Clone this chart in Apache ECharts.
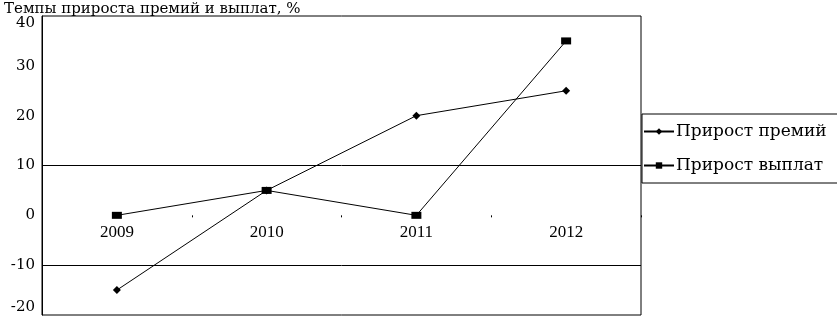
<!DOCTYPE html>
<html>
<head>
<meta charset="utf-8">
<script src="https://cdn.jsdelivr.net/npm/echarts@6/dist/echarts.min.js"></script>
<style>html,body{margin:0;padding:0;background:#fff}#c{width:837px;height:322px}</style>
</head>
<body>
<div id="c"></div>
<script>
const titleText = 'Темпы прироста премий и выплат, %';
const categories = ['2009', '2010', '2011', '2012'];
const premiumGrowth = [-15, 5, 20, 25];
const paymentGrowth = [0, 5, 0, 35];
const seriesNames = ['Прирост премий', 'Прирост выплат'];
const gridLines = [10, -10];
const yMin = -20, yMax = 40, yStep = 10;

const font = 'Liberation Serif';
const wideFont = 'DejaVu Serif';
const W = 837, H = 322;
const grid = {left: 42, top: 16, right: 196, bottom: 7};
const plotH = H - grid.top - grid.bottom;
const zeroOffset = -plotH * (0 - yMin) / (yMax - yMin);

const chart = echarts.init(document.getElementById('c'), null, {renderer: 'canvas'});
chart.setOption({
  animation: false,
  backgroundColor: '#fff',
  textStyle: {fontFamily: font, color: '#000'},
  title: {
    text: titleText, left: -1, top: -3,
    textStyle: {fontFamily: wideFont, fontSize: 15, fontWeight: 'normal', color: '#000'}
  },
  grid: Object.assign({show: true, borderColor: '#000', borderWidth: 1,
         containLabel: false, outerBoundsMode: 'none'}, grid),
  legend: {
    left: 642, top: 114, orient: 'vertical',
    padding: [9, 11, 9, 1],
    itemGap: 17, itemWidth: 30, itemHeight: 8,
    borderColor: '#000', borderWidth: 1,
    textStyle: {fontFamily: wideFont, fontSize: 17, color: '#000', padding: [0, 0, 0, -3]},
    data: seriesNames
  },
  xAxis: {
    type: 'category', data: categories, boundaryGap: true,
    position: 'bottom', offset: zeroOffset,
    axisLine: {show: false, onZero: false},
    axisTick: {show: true, length: 2, lineStyle: {color: '#000'}},
    axisLabel: {show: true, fontFamily: font, fontSize: 17, color: '#000', margin: 9},
    splitLine: {show: false}
  },
  yAxis: {
    type: 'value', min: yMin, max: yMax, interval: yStep,
    axisLine: {show: true, lineStyle: {color: '#000', width: 1}},
    axisTick: {show: false},
    axisLabel: {fontFamily: wideFont, fontSize: 15, color: '#000', margin: 7,
                verticalAlignMaxLabel: 'top', verticalAlignMinLabel: 'bottom'},
    splitLine: {show: false}
  },
  series: [
    {
      name: seriesNames[0], type: 'line', data: premiumGrowth,
      symbol: 'diamond', symbolSize: 8,
      lineStyle: {color: '#000', width: 1}, itemStyle: {color: '#000'},
      markLine: {
        silent: true, symbol: 'none', label: {show: false},
        lineStyle: {color: '#000', width: 1, type: 'solid'},
        data: gridLines.map(v => ({yAxis: v}))
      }
    },
    {
      name: seriesNames[1], type: 'line', data: paymentGrowth,
      symbol: 'rect', symbolSize: [10, 7],
      lineStyle: {color: '#000', width: 1}, itemStyle: {color: '#000'}
    }
  ]
});
</script>
</body>
</html>
